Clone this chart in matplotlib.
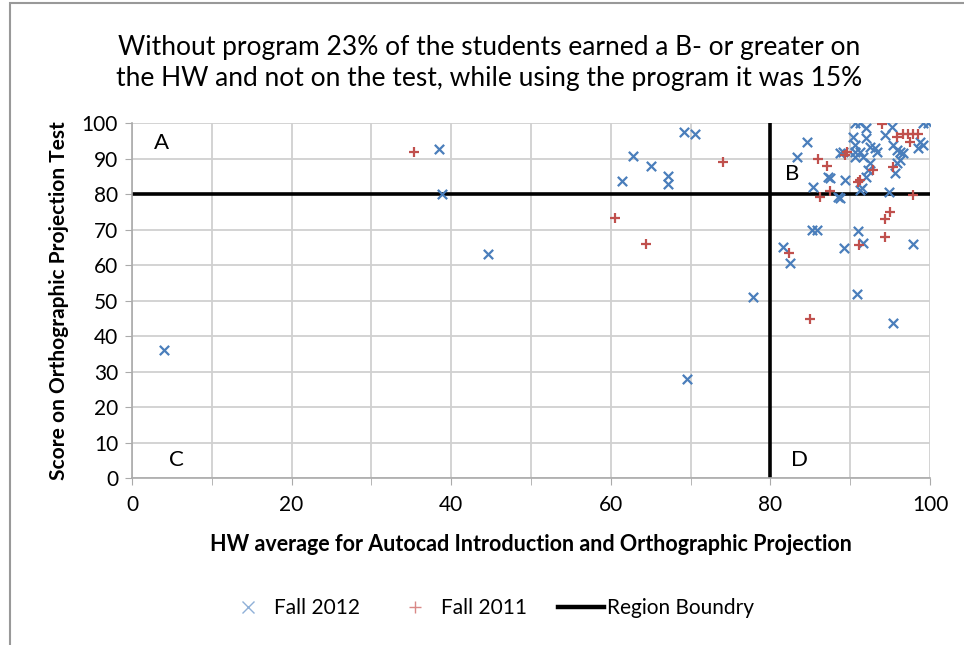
import matplotlib
matplotlib.use("Agg")
import matplotlib.pyplot as plt
from matplotlib.lines import Line2D
from matplotlib.patches import Rectangle

plt.rcParams['font.family'] = ['Lato', 'DejaVu Sans']

# Fall 2012 (blue x)
hw_2012 = [4, 38.5, 38.8, 44.6, 61.4, 62.8, 65.0, 67.2, 67.2, 69.2, 70.6, 69.5, 77.8,
           81.6, 82.5, 83.3, 84.6, 85.2, 85.8, 85.3, 87.2, 88.5, 88.7, 89.2, 89.3,
           89.1, 90.6, 91.2, 90.4, 90.6, 90.6, 90.6, 91.0, 90.9, 91.6, 91.5, 91.2,
           92.0, 92.0, 92.5, 93.1, 93.3, 91.2, 91.6, 92.5, 92.2, 92.0, 94.4, 95.2,
           95.4, 95.9, 96.2, 96.6, 96.2, 95.9, 95.6, 94.9, 95.4, 97.9, 98.7, 99.1,
           98.5, 99.1, 99.7, 87.5, 88.7]
test_2012 = [36, 92.7, 79.9, 63.2, 83.8, 90.8, 87.8, 85.0, 82.7, 97.6, 96.8, 28, 51,
             65, 60.5, 90.5, 94.7, 70, 70, 82, 84.8, 79.2, 91.5, 64.8, 84.0,
             91.8, 100, 100, 96, 93.8, 91.8, 90.4, 69.6, 51.8, 66.3, 81.7, 81,
             98.6, 95.8, 93.2, 93.0, 91.8, 91.8, 90.4, 88.7, 86.8, 84.8, 96.6, 99,
             93.8, 92.4, 91.8, 91.5, 89.6, 88.7, 85.9, 80.5, 43.8, 65.8, 94.6, 93.8,
             93.0, 100, 100, 84.5, 78.9]

# Fall 2011 (red +)
hw_2011 = [35.3, 60.5, 64.4, 74.1, 82.3, 85.0, 86.0, 87.1, 86.2, 87.5, 89.6, 91.0,
           91.1, 92.9, 94.0, 94.4, 94.4, 95.0, 95.4, 95.9, 96.6, 97.2, 97.9, 98.5,
           97.5, 97.9, 91.2, 89.3]
test_2011 = [91.8, 73.2, 65.9, 88.9, 63.3, 44.8, 89.9, 87.9, 79.2, 80.8, 91.8, 83.4,
             65.6, 86.8, 99.7, 67.9, 73.0, 75.0, 87.6, 96.0, 97.0, 97.0, 97.0, 97.0,
             94.6, 79.7, 84.0, 91.0]

boundary = 80
region_labels = ['A', 'B', 'C', 'D']
region_x = [2.8, 81.8, 4.6, 82.6]
region_y = [94.5, 85.5, 5.0, 5.0]

title = ("Without program 23% of the students earned a B- or greater on\n"
         "the HW and not on the test, while using the program it was 15%")

fig = plt.figure(figsize=(9.64, 6.45), dpi=100)
ax = fig.add_axes([0.1369, 0.2589, 0.8278, 0.5504])

blue = '#4a7ebb'
red = '#c0504d'

ax.scatter(hw_2012, test_2012, marker='x', s=45, color=blue, linewidths=1.6, zorder=3)
ax.scatter(hw_2011, test_2011, marker='+', s=55, color=red, linewidths=1.6, zorder=3)

ax.plot([0, 100], [boundary, boundary], color='black', lw=2.6, zorder=2)
ax.plot([boundary, boundary], [0, 100], color='black', lw=2.6, zorder=2)

for lab, x, y in zip(region_labels, region_x, region_y):
    ax.text(x, y, lab, fontsize=16, va='center', ha='left')

ax.set_xlim(0, 100)
ax.set_ylim(0, 100)
ax.set_xticks(range(0, 101, 20))
ax.set_xticks(range(0, 101, 10), minor=True)
ax.set_yticks(range(0, 101, 10))
ax.grid(True, which='both', color='#d0d0d0', lw=1.3, zorder=0)
for s in ['top', 'right']:
    ax.spines[s].set_visible(False)
for s in ['left', 'bottom']:
    ax.spines[s].set_color('#aaaaaa')
    ax.spines[s].set_linewidth(1.2)
ax.tick_params(which='both', direction='out', length=5, color='#aaaaaa', labelsize=15)
ax.tick_params(axis='x', pad=7)
ax.tick_params(axis='y', pad=5)

ax.set_xlabel('HW average for Autocad Introduction and Orthographic Projection',
              fontsize=15.5, fontweight='bold', labelpad=14)
ax.set_ylabel('Score on Orthographic Projection Test', fontsize=15,
              fontweight='bold', labelpad=9)

fig.text(0.507, 0.903, title, fontsize=19, ha='center', va='center', linespacing=1.3)

handles = [Line2D([], [], ls='none', marker='x', color='#8fb0d8', markersize=8, mew=1),
           Line2D([], [], ls='none', marker='+', color='#d98886', markersize=9, mew=1),
           Line2D([], [], color='black', lw=3.2)]
fig.legend(handles, ['Fall 2012', 'Fall 2011', 'Region Boundry'], loc='center',
           bbox_to_anchor=(0.508, 0.057), ncol=3, frameon=False, fontsize=15,
           handlelength=2.2, handletextpad=0.15, columnspacing=1.5)

# chart-area border
fig.add_artist(Rectangle((10 / 964, -0.1), 1.2, (645 - 3) / 645 + 0.1,
                         transform=fig.transFigure, fill=False,
                         edgecolor='#999999', lw=1.5))

fig.savefig('out.png', dpi=100)
